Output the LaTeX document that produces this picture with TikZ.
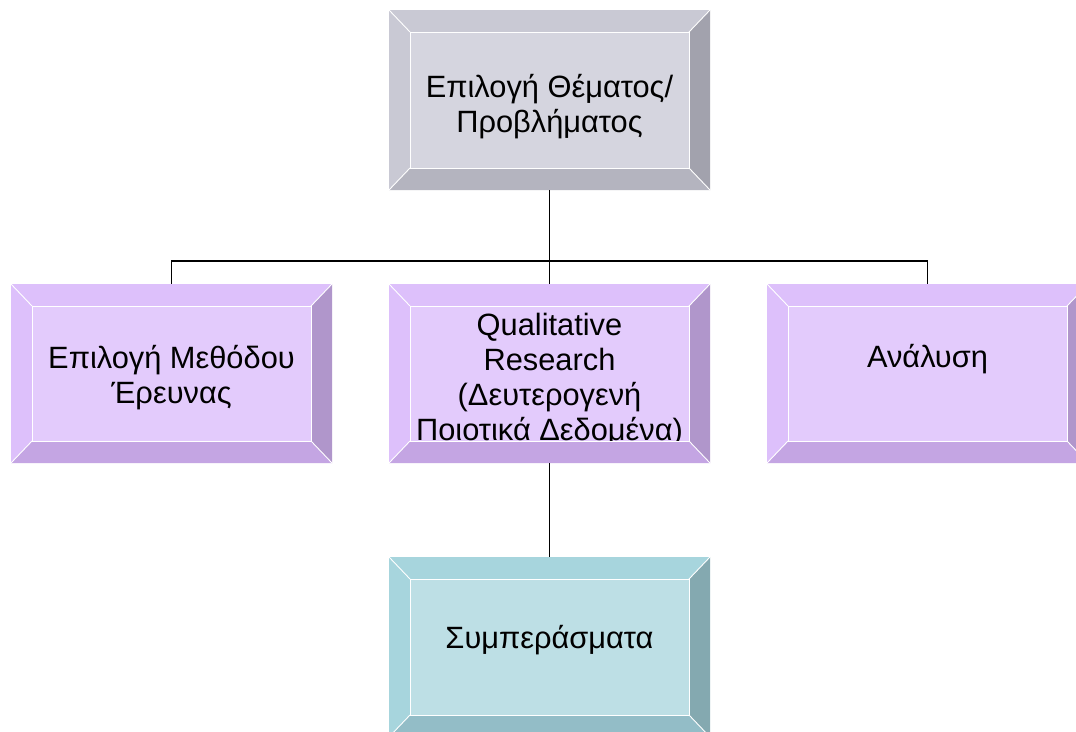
\documentclass[tikz,border=0pt]{standalone}
\usepackage{fontspec}
\setmainfont{Liberation Sans}
\usetikzlibrary{fit}
\definecolor{gF}{HTML}{D5D5DF}
\definecolor{gT}{HTML}{C9C9D4}
\definecolor{gL}{HTML}{C9C9D4}
\definecolor{gR}{HTML}{A2A2AD}
\definecolor{gB}{HTML}{B4B4BF}
\definecolor{pF}{HTML}{E3CBFC}
\definecolor{pT}{HTML}{DDC0FB}
\definecolor{pL}{HTML}{DDC0FB}
\definecolor{pR}{HTML}{B096CB}
\definecolor{pB}{HTML}{C4A5E3}
\definecolor{tF}{HTML}{BDDFE5}
\definecolor{tT}{HTML}{A7D5DD}
\definecolor{tL}{HTML}{A7D5DD}
\definecolor{tR}{HTML}{84A9B0}
\definecolor{tB}{HTML}{93BDC7}
\tikzset{
  seam/.style={white, line width=0.9pt},
  conn/.style={black, line width=1.5pt},
  boxtext/.style={anchor=base, align=center, inner sep=0pt,
    font=\fontsize{30.8}{35}\selectfont},
}
% #1 name, #2 x1, #3 y1, #4 x2, #5 y2, #6 colour prefix, #7 text, #8 last baseline
\newcommand\bevbox[8]{%
  \fill[#6F] ({#2+21},{#3+22}) rectangle ({#4-21},{#5-22});
  \node[fit={(#2,#3) (#4,#5)}, inner sep=0pt] (#1) {};
  \node[boxtext] (#1-t) at ({(#2+#4)/2},#8) {#7};
  \fill[#6T] (#2,#3) -- (#4,#3) -- ({#4-21},{#3+22}) -- ({#2+21},{#3+22}) -- cycle;
  \fill[#6L] (#2,#3) -- ({#2+21},{#3+22}) -- ({#2+21},{#5-22}) -- (#2,#5) -- cycle;
  \fill[#6R] (#4,#3) -- (#4,#5) -- ({#4-21},{#5-22}) -- ({#4-21},{#3+22}) -- cycle;
  \fill[#6B] (#2,#5) -- ({#2+21},{#5-22}) -- ({#4-21},{#5-22}) -- (#4,#5) -- cycle;
  \draw[seam] ({#2+21},{#3+22}) rectangle ({#4-21},{#5-22});
  \draw[seam] (#2,#3) -- ({#2+21},{#3+22});
  \draw[seam] (#4,#3) -- ({#4-21},{#3+22});
  \draw[seam] (#2,#5) -- ({#2+21},{#5-22});
  \draw[seam] (#4,#5) -- ({#4-21},{#5-22});
}
\begin{document}
\begin{tikzpicture}[x=1pt,y=-1pt]
\useasboundingbox (0,0) rectangle (1076,731);
\clip (0,0) rectangle (1076,731);
\fill[white] (0,0) rectangle (1076,731);
\bevbox{top}{389}{10}{710}{190}{g}{Επιλογή Θέματος/\\Προβλήματος}{132}
\bevbox{left}{11}{284}{332}{463}{p}{Επιλογή Μεθόδου\\Έρευνας}{403}
\bevbox{mid}{389}{284}{710}{463}{p}{Qualitative\\Research\\(Δευτερογενή\\Ποιοτικά Δεδομένα)}{440}
\bevbox{right}{767}{284}{1088}{463}{p}{Ανάλυση}{367}
\bevbox{bot}{389}{557}{710}{737}{t}{Συμπεράσματα}{648}
\coordinate (j) at (549.5,261);
\draw[conn] (top.south) -- (j);
\draw[conn] (left.north) |- (j) -| (right.north);
\draw[conn] (j) -- (mid.north);
\draw[conn] (mid.south) -- (bot.north);
\end{tikzpicture}
\end{document}
